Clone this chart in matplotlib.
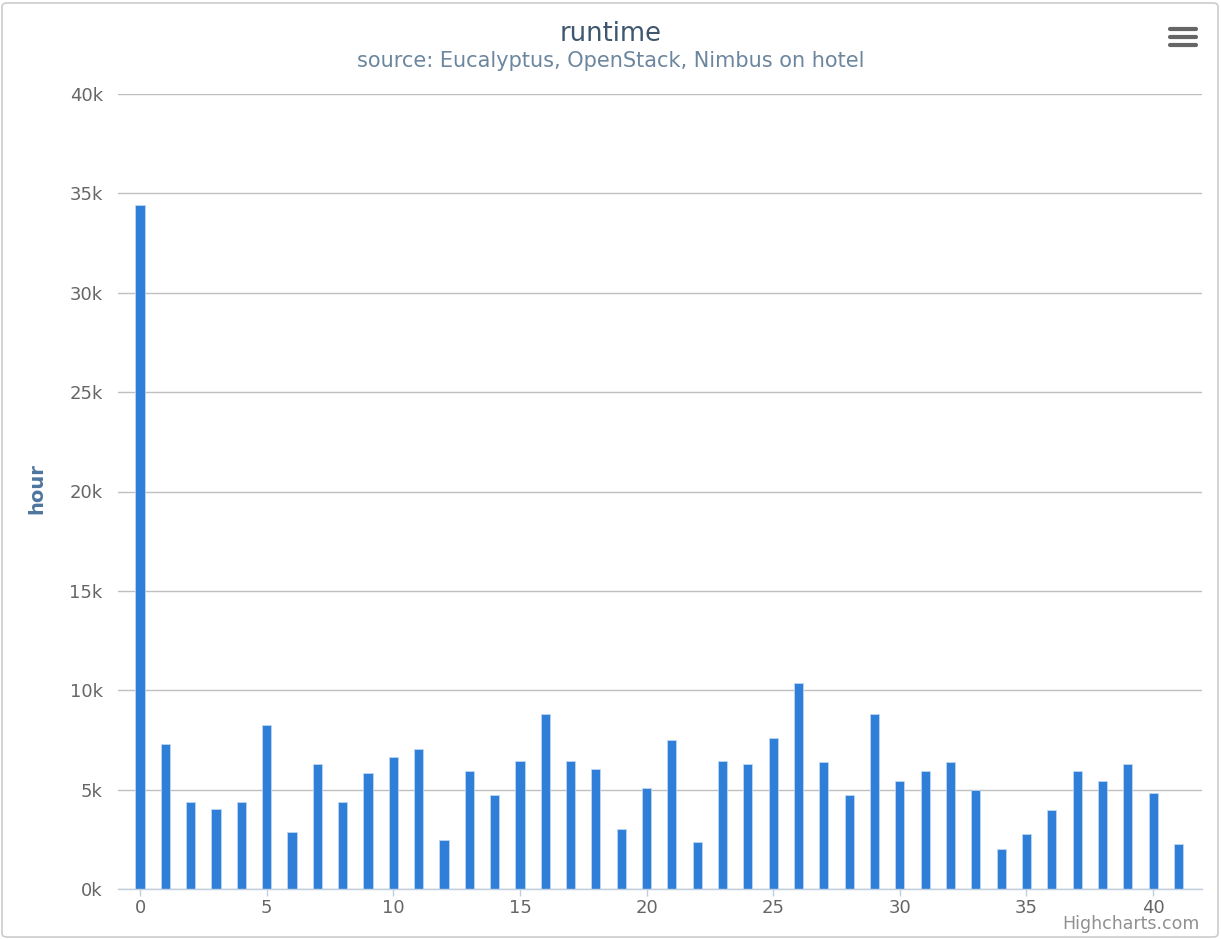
import matplotlib.pyplot as plt
from matplotlib.patches import FancyBboxPatch
from matplotlib.lines import Line2D
from matplotlib.ticker import FuncFormatter, MultipleLocator

# ── Data: runtime hours per index ─────────────────────────────────────
index = list(range(42))
hours = [
    34400, 7300, 4400, 4050, 4400, 8250, 2850, 6300, 4400, 5850,
    6650, 7050, 2450, 5950, 4750, 6450, 8800, 6450, 6050, 3000,
    5100, 7500, 2350, 6450, 6300, 7600, 10350, 6400, 4750, 8800,
    5450, 5950, 6400, 5000, 2000, 2750, 3950, 5950, 5450, 6300,
    4850, 2250,
]

title = "runtime"
subtitle = "source: Eucalyptus, OpenStack, Nimbus on hotel"
ylabel = "hour"

W, H = 1221, 939
fig = plt.figure(figsize=(W / 100, H / 100), dpi=100)
plt.rcParams["font.family"] = "DejaVu Sans"

# rounded outer border
fig.patches.append(FancyBboxPatch((2 / W, 2 / H), (W - 5) / W, (H - 5) / H,
                                  boxstyle="round,pad=0,rounding_size=0.004",
                                  transform=fig.transFigure, fill=False,
                                  edgecolor="#cccccc", linewidth=1.2))

left, right, bottom, top = 118, 1202, 889, 94
ax = fig.add_axes([left / W, (H - bottom) / H, (right - left) / W, (bottom - top) / H])

ax.bar(index, hours, width=0.36, color="#2f7ed8", edgecolor="#bcd6f3",
       linewidth=0.6, zorder=3)

ax.set_xlim(-0.87, 41.93)
ax.set_ylim(0, 40000)
ax.yaxis.set_major_locator(MultipleLocator(5000))
ax.xaxis.set_major_locator(MultipleLocator(5))
ax.yaxis.set_major_formatter(FuncFormatter(lambda v, p: f"{int(v / 1000)}k"))
ax.grid(axis="y", color="#c0c0c0", linewidth=1.0, zorder=0)

for s in ("top", "right", "left"):
    ax.spines[s].set_visible(False)
ax.spines["bottom"].set_color("#c0d0e0")
ax.spines["bottom"].set_linewidth(1.0)
ax.spines["bottom"].set_zorder(4)

ax.tick_params(axis="y", length=0, pad=11, labelsize=13, labelcolor="#666666")
ax.tick_params(axis="x", length=5, width=1, color="#c0d0e0", pad=2,
               labelsize=13, labelcolor="#666666")

ax.set_ylabel(ylabel, fontsize=14, fontweight="bold", color="#4d759e")
ax.yaxis.set_label_coords(-72 / (right - left), 0.504)

fig.text(611 / W, 1 - 34 / H, title, ha="center", va="center",
         fontsize=18.5, color="#3e576f")
fig.text(611 / W, 1 - 61 / H, subtitle, ha="center", va="center",
         fontsize=15, color="#6d869f")
fig.text(1200 / W, 1 - 924 / H, "Highcharts.com", ha="right", va="center",
         fontsize=12.5, color="#909090")

# export menu icon
for yy in (28.5, 36.5, 44.5):
    fig.add_artist(Line2D([1170 / W, 1196 / W], [1 - yy / H, 1 - yy / H],
                          transform=fig.transFigure, color="#666666",
                          linewidth=3, solid_capstyle="round"))

fig.savefig("out.png", dpi=100)
